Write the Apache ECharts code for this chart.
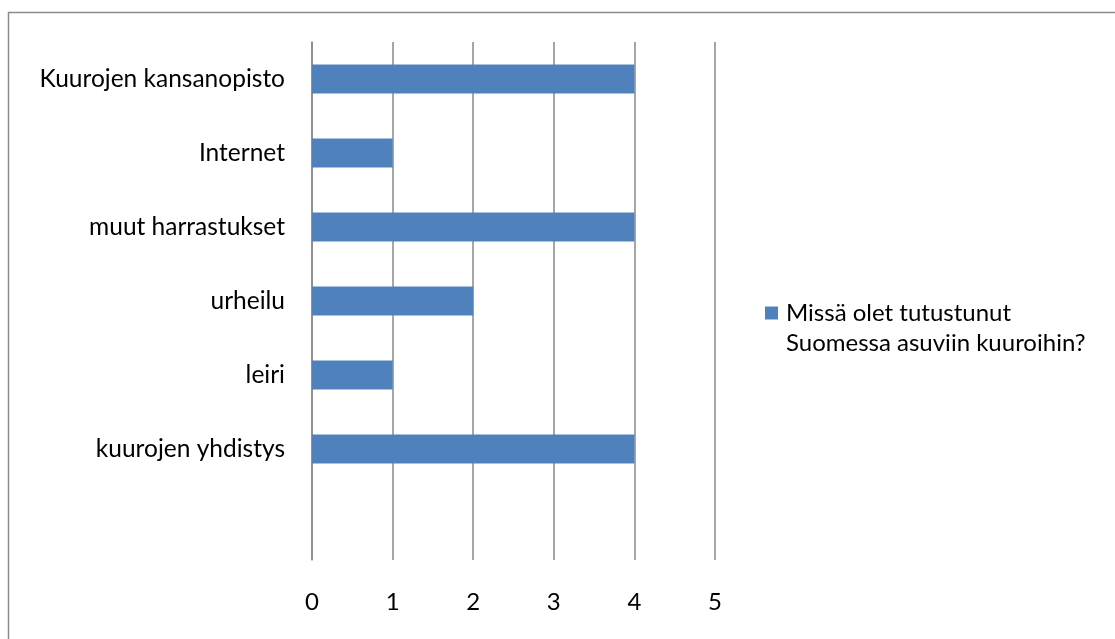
<!DOCTYPE html>
<html>
<head>
<meta charset="utf-8">
<script src="https://cdn.jsdelivr.net/npm/echarts@6/dist/echarts.min.js"></script>
<style>
  html, body { margin: 0; padding: 0; background: #fff; }
  #chart { width: 1115px; height: 639px; }
</style>
</head>
<body>
<div id="chart"></div>
<script>
// data (bottom to top)
var categories = ['', 'kuurojen yhdistys', 'leiri', 'urheilu', 'muut harrastukset', 'Internet', 'Kuurojen kansanopisto'];
var values = [null, 4, 1, 2, 4, 1, 4];
var seriesName = 'Missä olet tutustunut\nSuomessa asuviin kuuroihin?';
var xTicks = [0, 1, 2, 3, 4, 5];

var myChart = echarts.init(document.getElementById('chart'));

var option = {
    animation: false,
    textStyle: { fontFamily: 'Lato', color: '#000' },
    graphic: [{
        type: 'rect',
        shape: { x: 8.5, y: 12.5, width: 1120, height: 640 },
        style: { fill: 'none', stroke: '#8c8c8c', lineWidth: 1.5 },
        silent: true
    }],
    grid: { left: 312, right: 400, top: 42, bottom: 79 },
    legend: {
        data: [seriesName],
        left: 760,
        top: 293,
        // square sits beside the first line of the two-line name
        icon: 'path://M0,0L13,0L13,13L0,13Z M0,42.99L0.01,42.99L0.01,43Z',
        itemWidth: 13,
        itemHeight: 43,
        itemGap: 8,
        textStyle: { fontSize: 24, lineHeight: 30, color: '#000', fontFamily: 'Lato', padding: [0, 0, 0, 3] }
    },
    xAxis: {
        type: 'value',
        min: xTicks[0],
        max: xTicks[xTicks.length - 1],
        interval: 1,
        axisLine: { show: false },
        axisTick: { show: false },
        axisLabel: { fontSize: 24, color: '#000', margin: 30 },
        splitLine: { show: true, lineStyle: { color: '#888', width: 1.5 } }
    },
    yAxis: {
        type: 'category',
        data: categories,
        axisLine: { show: true, lineStyle: { color: '#888', width: 1.5 } },
        axisTick: { show: false },
        axisLabel: { fontSize: 24.5, color: '#000', margin: 27 },
        splitLine: { show: false }
    },
    series: [{
        name: seriesName,
        type: 'bar',
        data: values,
        barWidth: 29,
        itemStyle: { color: '#4f81bd' }
    }]
};

myChart.setOption(option);
</script>
</body>
</html>
